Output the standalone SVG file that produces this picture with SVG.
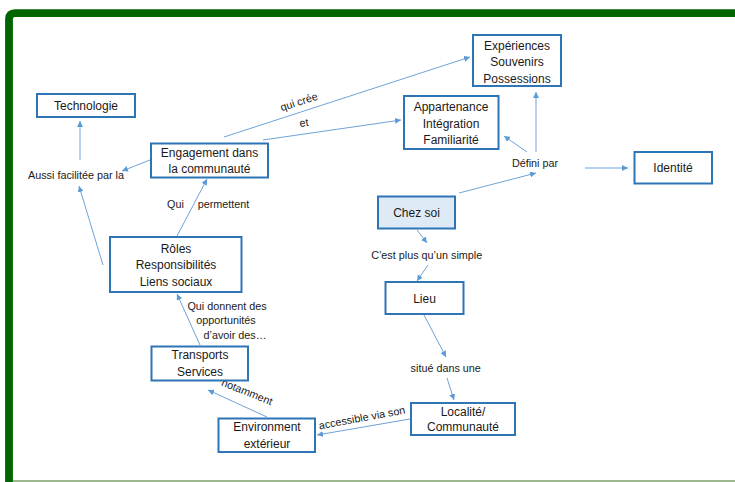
<svg xmlns="http://www.w3.org/2000/svg" width="735" height="482" viewBox="0 0 735 482">
<style>
.box{fill:#fff;stroke:#2E75B6;stroke-width:2}
.hl{fill:#DEEBF7}
.t{font-family:"Liberation Sans",Arial,sans-serif;font-size:12px;fill:#1a1a1a;text-anchor:middle}
.l{font-family:"Liberation Sans",Arial,sans-serif;font-size:10.8px;fill:#1a1a1a;text-anchor:middle}
.c{stroke:#6FA3D8;stroke-width:1;fill:none;marker-end:url(#ah)}
</style>
<defs>
<marker id="ah" markerUnits="userSpaceOnUse" markerWidth="7" markerHeight="6" refX="6" refY="3" orient="auto">
<path d="M0,0 L6,3 L0,6 z" fill="#5B9BD5"/>
</marker>
</defs>
<rect x="0" y="0" width="735" height="482" fill="#fff"/>
<path d="M9,482 L9,19 Q9,13.2 15,13.2 L740,13.2" fill="none" stroke="#006400" stroke-width="7.8"/>
<rect x="13" y="480" width="722" height="2" fill="#9DB88E"/>

<g id="connectors">
<line class="c" x1="224" y1="137" x2="470" y2="57"/>
<line class="c" x1="263" y1="140" x2="401" y2="120"/>
<line class="c" x1="150" y1="160" x2="122" y2="171"/>
<line class="c" x1="80" y1="160" x2="80" y2="121"/>
<line class="c" x1="103" y1="265" x2="79" y2="186"/>
<line class="c" x1="177" y1="236" x2="207" y2="179"/>
<line class="c" x1="200" y1="345" x2="177" y2="294"/>
<line class="c" x1="267" y1="417" x2="208" y2="390"/>
<line class="c" x1="410" y1="419" x2="317" y2="435"/>
<line class="c" x1="424" y1="315" x2="446" y2="357"/>
<line class="c" x1="447" y1="378" x2="454" y2="400"/>
<line class="c" x1="417" y1="230" x2="427" y2="243"/>
<line class="c" x1="428" y1="265" x2="417" y2="281"/>
<line class="c" x1="459" y1="193" x2="536" y2="173"/>
<line class="c" x1="527" y1="152" x2="504" y2="136"/>
<line class="c" x1="536" y1="152" x2="536" y2="92"/>
<line class="c" x1="585" y1="168" x2="628" y2="168"/>
</g>

<g id="labels">
<text class="l" x="76" y="179">Aussi facilitée par la</text>
<text class="l" x="175.5" y="208">Qui</text>
<text class="l" x="223.5" y="208">permettent</text>
<text class="l" transform="translate(299,102) rotate(-18)" x="0" y="3.5">qui crée</text>
<text class="l" transform="translate(304,123) rotate(-8)" x="0" y="3.5">et</text>
<text class="l" x="535" y="167">Défini par</text>
<text class="l" x="426.7" y="259">C’est plus qu’un simple</text>
<text class="l" x="445.7" y="371.5">situé dans une</text>
<text class="l" x="227" y="309.5">Qui donnent des</text>
<text class="l" x="226" y="324">opportunités</text>
<text class="l" x="235" y="339">d’avoir des…</text>
<text class="l" transform="translate(247,392) rotate(22)" x="0" y="3.5">notamment</text>
<text class="l" transform="translate(362,418) rotate(-10.5)" x="0" y="3.5">accessible via son</text>
</g>

<g id="experiences">
<rect class="box" x="473" y="35" width="88" height="51"/>
<text class="t" x="517" y="49.5">Expériences</text>
<text class="t" x="517" y="66">Souvenirs</text>
<text class="t" x="517" y="82.5">Possessions</text>
</g>
<g id="technologie">
<rect class="box" x="37" y="94" width="98" height="23"/>
<text class="t" x="86" y="110">Technologie</text>
</g>
<g id="engagement">
<rect class="box" x="151" y="143.5" width="117" height="34"/>
<text class="t" x="209.5" y="156.5">Engagement dans</text>
<text class="t" x="209.5" y="172.5">la communauté</text>
</g>
<g id="appartenance">
<rect class="box" x="404" y="96" width="94.5" height="53"/>
<text class="t" x="451" y="111">Appartenance</text>
<text class="t" x="451" y="127.5">Intégration</text>
<text class="t" x="451" y="143.5">Familiarité</text>
</g>
<g id="identite">
<rect class="box" x="634.5" y="152" width="77.5" height="31.5"/>
<text class="t" x="673" y="172">Identité</text>
</g>
<g id="chezsoi">
<rect class="box hl" x="378" y="196.5" width="77" height="32"/>
<text class="t" x="416.5" y="217">Chez soi</text>
</g>
<g id="roles">
<rect class="box" x="110" y="237" width="131.5" height="55"/>
<text class="t" x="176" y="252.5">Rôles</text>
<text class="t" x="176" y="269.3">Responsibilités</text>
<text class="t" x="176" y="286">Liens sociaux</text>
</g>
<g id="transports">
<rect class="box" x="151.5" y="346.5" width="96.5" height="34"/>
<text class="t" x="200" y="359.3">Transports</text>
<text class="t" x="200" y="376">Services</text>
</g>
<g id="lieu">
<rect class="box" x="385.5" y="282" width="78" height="32"/>
<text class="t" x="424.5" y="302.5">Lieu</text>
</g>
<g id="environnement">
<rect class="box" x="218.5" y="418.5" width="96.5" height="33.5"/>
<text class="t" x="267" y="431">Environment</text>
<text class="t" x="267" y="447.5">extérieur</text>
</g>
<g id="localite">
<rect class="box" x="411" y="403" width="104" height="32"/>
<text class="t" x="463" y="416">Localité/</text>
<text class="t" x="463" y="431">Communauté</text>
</g>
</svg>
